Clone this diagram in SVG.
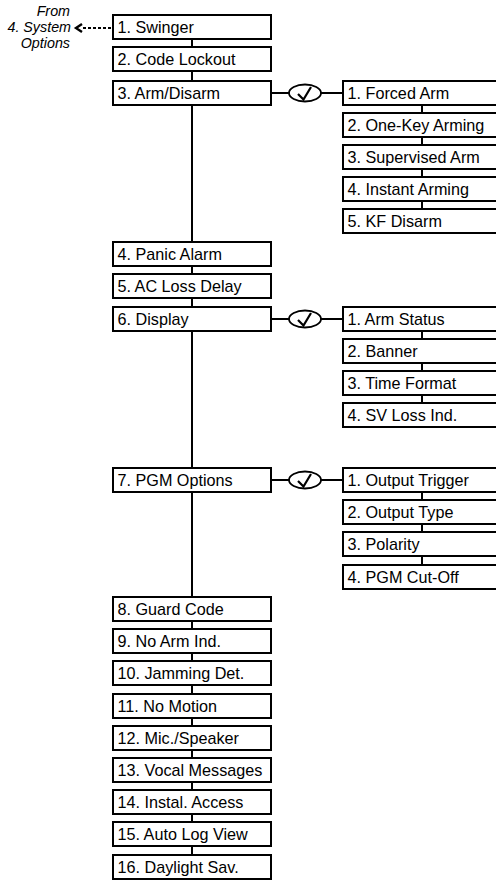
<svg xmlns="http://www.w3.org/2000/svg" width="496" height="881" viewBox="0 0 496 881">
<style>
.b{fill:#fff;stroke:#000;stroke-width:2}
.t{font-family:"Liberation Sans",Arial,sans-serif;font-size:16.2px;fill:#000}
.i{font-family:"Liberation Sans",Arial,sans-serif;font-size:14.3px;font-style:italic;fill:#000;text-anchor:end}
.c{fill:none;stroke:#000;stroke-width:2}
.e{fill:#fff;stroke:#000;stroke-width:1.8}
</style>
<g id="connectors">
<line class="c" x1="192" y1="39" x2="192" y2="855"/>
<line class="c" x1="422" y1="104" x2="422" y2="209"/>
<line class="c" x1="422" y1="330" x2="422" y2="403"/>
<line class="c" x1="422" y1="492" x2="422" y2="565"/>
<line class="c" x1="271" y1="93" x2="343" y2="93"/>
<line class="c" x1="271" y1="319" x2="343" y2="319"/>
<line class="c" x1="271" y1="480" x2="343" y2="480"/>
<line x1="83" y1="28" x2="113" y2="28" stroke="#000" stroke-width="1.8" stroke-dasharray="3,2"/>
<path d="M82,24 L76,28 L82,32" fill="none" stroke="#000" stroke-width="2.4"/>
</g>
<g id="from-label">
<text class="i" x="70" y="16">From</text>
<text class="i" x="71" y="32">4. System</text>
<text class="i" x="70" y="48">Options</text>
</g>
<g id="check1"><ellipse class="e" cx="305" cy="93" rx="16" ry="8.5"/><path d="M298,94 L303.5,99.5 L311,87" fill="none" stroke="#000" stroke-width="2.2"/></g>
<g id="check2"><ellipse class="e" cx="305" cy="319" rx="16" ry="8.5"/><path d="M298,320 L303.5,325.5 L311,313" fill="none" stroke="#000" stroke-width="2.2"/></g>
<g id="check3"><ellipse class="e" cx="305" cy="480" rx="16" ry="8.5"/><path d="M298,481 L303.5,486.5 L311,474" fill="none" stroke="#000" stroke-width="2.2"/></g>
<g id="n1"><rect class="b" x="113" y="15" width="158" height="24"/><text class="t" x="117.5" y="33">1. Swinger</text></g>
<g id="n2"><rect class="b" x="113" y="47" width="158" height="24"/><text class="t" x="117.5" y="65">2. Code Lockout</text></g>
<g id="n3"><rect class="b" x="113" y="81" width="158" height="24"/><text class="t" x="117.5" y="99">3. Arm/Disarm</text></g>
<g id="n4"><rect class="b" x="113" y="242" width="158" height="24"/><text class="t" x="117.5" y="260">4. Panic Alarm</text></g>
<g id="n5"><rect class="b" x="113" y="274" width="158" height="24"/><text class="t" x="117.5" y="292">5. AC Loss Delay</text></g>
<g id="n6"><rect class="b" x="113" y="307" width="158" height="24"/><text class="t" x="117.5" y="325">6. Display</text></g>
<g id="n7"><rect class="b" x="113" y="468" width="158" height="24"/><text class="t" x="117.5" y="486">7. PGM Options</text></g>
<g id="n8"><rect class="b" x="113" y="597" width="158" height="24"/><text class="t" x="117.5" y="615">8. Guard Code</text></g>
<g id="n9"><rect class="b" x="113" y="629" width="158" height="24"/><text class="t" x="117.5" y="647">9. No Arm Ind.</text></g>
<g id="n10"><rect class="b" x="113" y="661" width="158" height="24"/><text class="t" x="117.5" y="679">10. Jamming Det.</text></g>
<g id="n11"><rect class="b" x="113" y="694" width="158" height="24"/><text class="t" x="117.5" y="712">11. No Motion</text></g>
<g id="n12"><rect class="b" x="113" y="726" width="158" height="24"/><text class="t" x="117.5" y="744">12. Mic./Speaker</text></g>
<g id="n13"><rect class="b" x="113" y="758" width="158" height="24"/><text class="t" x="117.5" y="776">13. Vocal Messages</text></g>
<g id="n14"><rect class="b" x="113" y="790" width="158" height="24"/><text class="t" x="117.5" y="808">14. Instal. Access</text></g>
<g id="n15"><rect class="b" x="113" y="822" width="158" height="24"/><text class="t" x="117.5" y="840">15. Auto Log View</text></g>
<g id="n16"><rect class="b" x="113" y="855" width="158" height="24"/><text class="t" x="117.5" y="873">16. Daylight Sav.</text></g>
<g id="a1"><rect class="b" x="343" y="81" width="170" height="24"/><text class="t" x="347.5" y="99">1. Forced Arm</text></g>
<g id="a2"><rect class="b" x="343" y="113" width="170" height="24"/><text class="t" x="347.5" y="131">2. One-Key Arming</text></g>
<g id="a3"><rect class="b" x="343" y="145" width="170" height="24"/><text class="t" x="347.5" y="163">3. Supervised Arm</text></g>
<g id="a4"><rect class="b" x="343" y="177" width="170" height="24"/><text class="t" x="347.5" y="195">4. Instant Arming</text></g>
<g id="a5"><rect class="b" x="343" y="209" width="170" height="24"/><text class="t" x="347.5" y="227">5. KF Disarm</text></g>
<g id="d1"><rect class="b" x="343" y="307" width="170" height="24"/><text class="t" x="347.5" y="325">1. Arm Status</text></g>
<g id="d2"><rect class="b" x="343" y="339" width="170" height="24"/><text class="t" x="347.5" y="357">2. Banner</text></g>
<g id="d3"><rect class="b" x="343" y="371" width="170" height="24"/><text class="t" x="347.5" y="389">3. Time Format</text></g>
<g id="d4"><rect class="b" x="343" y="403" width="170" height="24"/><text class="t" x="347.5" y="421">4. SV Loss Ind.</text></g>
<g id="p1"><rect class="b" x="343" y="468" width="170" height="24"/><text class="t" x="347.5" y="486">1. Output Trigger</text></g>
<g id="p2"><rect class="b" x="343" y="500" width="170" height="24"/><text class="t" x="347.5" y="518">2. Output Type</text></g>
<g id="p3"><rect class="b" x="343" y="532" width="170" height="24"/><text class="t" x="347.5" y="550">3. Polarity</text></g>
<g id="p4"><rect class="b" x="343" y="565" width="170" height="24"/><text class="t" x="347.5" y="583">4. PGM Cut-Off</text></g>
</svg>
